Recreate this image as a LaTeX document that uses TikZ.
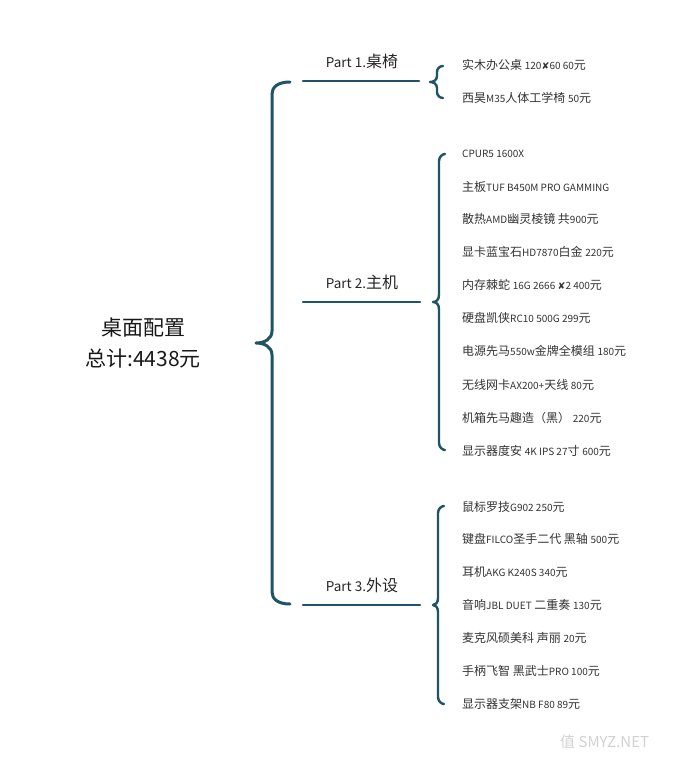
\documentclass[tikz,border=0pt]{standalone}
\usepackage{fontspec}
\setmainfont{Noto Sans CJK SC}
\newfontfamily\djv{DejaVu Sans}
\definecolor{tealdark}{HTML}{1E5466}
\newcommand\lat[1]{{\fontsize{10}{11}\selectfont #1}}
\newcommand\bx{{\djv\fontsize{9.5}{10}\selectfont ✘}}
% #1 xv, #2 xend, #3 ytop, #4 ytip, #5 ybot, #6 xtip, #7 r, #8 width
\newcommand\bracedraw[8]{%
\draw[conn, line width=#8] (#2,#3) .. controls ({#1+0.45*#7},#3) and (#1,{#3+0.45*#7}) .. (#1,{#3+#7})
 -- (#1,{#4-#7}) .. controls (#1,{#4-0.3*#7}) and ({#6+0.5*(#1-#6)},#4) .. (#6,#4)
 .. controls ({#6+0.5*(#1-#6)},#4) and (#1,{#4+0.3*#7}) .. (#1,{#4+#7})
 -- (#1,{#5-#7}) .. controls (#1,{#5-0.45*#7}) and ({#1+0.45*#7},#5) .. (#2,#5);}
\begin{document}
\begin{tikzpicture}[x=1pt,y=-1pt,
  item/.style={anchor=west, font=\fontsize{12}{14}\selectfont, text=black!80, inner sep=0pt},
  part/.style={font=\fontsize{16}{18}\selectfont, text=black!85, inner sep=0pt},
  conn/.style={draw=tealdark, line cap=round, line join=round}]
\useasboundingbox[fill=white] (0,0) rectangle (680,761);

% root
\node[align=center, font=\fontsize{21}{31}\selectfont, text=black!90] (root) at (143,343) {桌面配置\\总计:4438元};

% main brace
\coordinate (tip0) at (256,343);
\bracedraw{272}{290}{82}{343}{604}{256}{12}{3pt}

% part lines
\coordinate (p1a) at (303,81);  \coordinate (p1b) at (419,81);
\coordinate (p2a) at (303,302); \coordinate (p2b) at (420,302);
\coordinate (p3a) at (303,605); \coordinate (p3b) at (420,605);
\draw[conn, line width=2.6pt] (p1a) -- (p1b);
\draw[conn, line width=2.6pt] (p2a) -- (p2b);
\draw[conn, line width=2.6pt] (p3a) -- (p3b);

\node[part] (part1) at (362,61) {{\fontsize{13.5}{14}\selectfont Part 1.}桌椅};
\node[part] (part2) at (362,282) {{\fontsize{13.5}{14}\selectfont Part 2.}主机};
\node[part] (part3) at (362,585) {{\fontsize{13.5}{14}\selectfont Part 3.}外设};

% small braces
\bracedraw{437}{443}{66}{82}{98}{430}{6}{2.4pt}
\bracedraw{439}{445}{154}{302}{450}{433}{7}{2.4pt}
\bracedraw{438}{444}{506}{605}{704}{433}{7}{2.4pt}

% Part 1 items
\node[item] (a1) at (462,65) {实木办公桌 \lat{120}\bx\lat{60 60}元};
\node[item] (a2) at (462,98) {西昊\lat{M35}人体工学椅 \lat{50}元};

% Part 2 items
\node[item] (b1) at (462,154) {\lat{CPUR5 1600X}};
\node[item] (b2) at (462,187) {主板\lat{TUF B450M PRO GAMMING}};
\node[item] (b3) at (462,219) {散热\lat{AMD}幽灵棱镜 共\lat{900}元};
\node[item] (b4) at (462,252) {显卡蓝宝石\lat{HD7870}白金 \lat{220}元};
\node[item] (b5) at (462,285) {内存棘蛇 \lat{16G 2666 }\bx\lat{2 400}元};
\node[item] (b6) at (462,318) {硬盘凯侠\lat{RC10 500G 299}元};
\node[item] (b7) at (462,351) {电源先马\lat{550w}金牌全模组 \lat{180}元};
\node[item] (b8) at (462,385) {无线网卡\lat{AX200+}天线 \lat{80}元};
\node[item] (b9) at (462,418) {机箱先马趣造（黑） \lat{220}元};
\node[item] (b10) at (462,451) {显示器度安 \lat{4K IPS 27}寸 \lat{600}元};

% Part 3 items
\node[item] (c1) at (462,507) {鼠标罗技\lat{G902 250}元};
\node[item] (c2) at (462,539) {键盘\lat{FILCO}圣手二代 黑轴 \lat{500}元};
\node[item] (c3) at (462,572) {耳机\lat{AKG K240S 340}元};
\node[item] (c4) at (462,605) {音响\lat{JBL DUET} 二重奏 \lat{130}元};
\node[item] (c5) at (462,638) {麦克风硕美科 声丽 \lat{20}元};
\node[item] (c6) at (462,671) {手柄飞智 黑武士\lat{PRO 100}元};
\node[item] (c7) at (462,704) {显示器支架\lat{NB F80 89}元};

% watermark
\node[anchor=west, text=gray!35, font=\fontsize{15}{16}\selectfont, inner sep=0pt] (wm) at (560,742) {值 SMYZ.NET};
\end{tikzpicture}
\end{document}
